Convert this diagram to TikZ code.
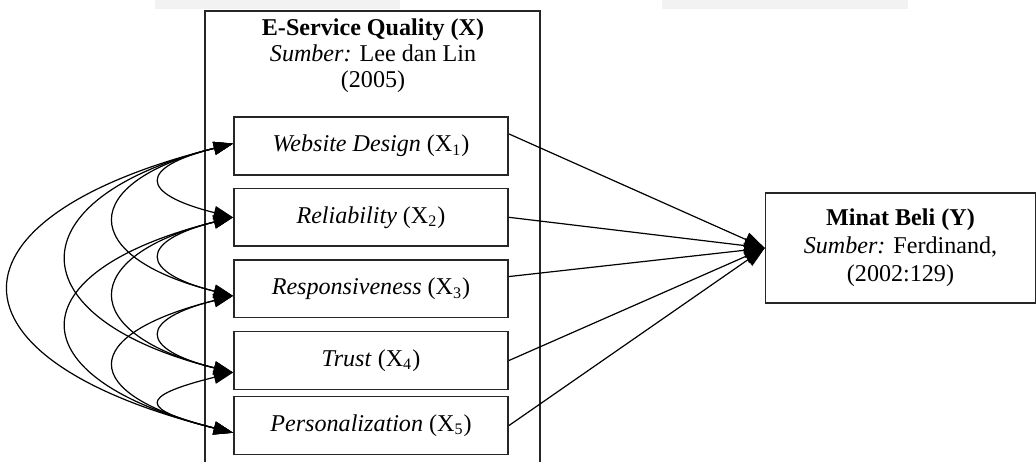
\documentclass[tikz,border=0pt]{standalone}
\usepackage{fontspec}
\setmainfont{Liberation Serif}
\usetikzlibrary{arrows.meta,positioning}

\begin{document}
\begin{tikzpicture}
	[
		x=0.0175cm, y=-0.0175cm,
		every node/.style={font=\fontsize{12}{13}\selectfont},
		framebox/.style={draw=black!85, line width=0.8pt},
		itembox/.style={rectangle, draw=black!85, line width=0.8pt, minimum width=4.8cm, minimum height=1.01cm},
		targetbox/.style={rectangle, draw=black!85, line width=0.8pt, minimum width=4.72cm, minimum height=1.92cm, align=center},
		corr/.style={{Triangle[length=3.4mm,width=2.3mm]}-{Triangle[length=3.4mm,width=2.3mm]}, line width=0.6pt},
		effect/.style={-{Triangle[length=3.6mm,width=2.6mm]}, line width=0.6pt},
	]
	\useasboundingbox (0,0) rectangle (1036,462);

	% faint strips at the top edge
	\fill[black!5] (155,0) rectangle (400,9);
	\fill[black!5] (662,0) rectangle (908,9);

	% variable X
	\draw[framebox] (205,470) |- (540,11) -- (540,470);
	\node [align=center] (xtitle) at (373,56) {\textbf{E-Service Quality (X)}\\\textit{Sumber:} Lee dan Lin\\(2005)};

	\node [itembox] (web) at (371,146) {\textit{Website Design} (X\textsubscript{1})};
	\node [itembox] (rel) [below=0.21cm of web] {\textit{Reliability} (X\textsubscript{2})};
	\node [itembox] (resp) [below=0.21cm of rel] {\textit{Responsiveness} (X\textsubscript{3})};
	\node [itembox] (trust) [below=0.22cm of resp] {\textit{Trust} (X\textsubscript{4})};
	\node [itembox] (pers) [below=0.1cm of trust] {\textit{Personalization} (X\textsubscript{5})};

	% variable Y
	\node [targetbox, font=\fontsize{12}{14}\selectfont] (minat) at (900.5,248) {\textbf{Minat Beli (Y)}\\\textit{Sumber:} Ferdinand,\\(2002:129)};

	\foreach \src in {web.5, rel.east, resp.5, trust.east, pers.east}
		\draw[effect] (\src) -- (minat.west);

	% correlations between indicators
	\foreach \i/\j/\a in {web.179/rel.west/95, rel.west/resp.183/95, resp.183/trust.185/95, trust.185/pers.183/95,
		web.179/resp.183/156, rel.west/trust.185/156, resp.183/pers.183/156,
		web.179/trust.185/219, rel.west/pers.183/219, web.179/pers.183/296}
		\draw[corr] (\i) .. controls +(-\a,0.25*\a) and +(-\a,-0.25*\a) .. (\j);

\end{tikzpicture}
\end{document}
